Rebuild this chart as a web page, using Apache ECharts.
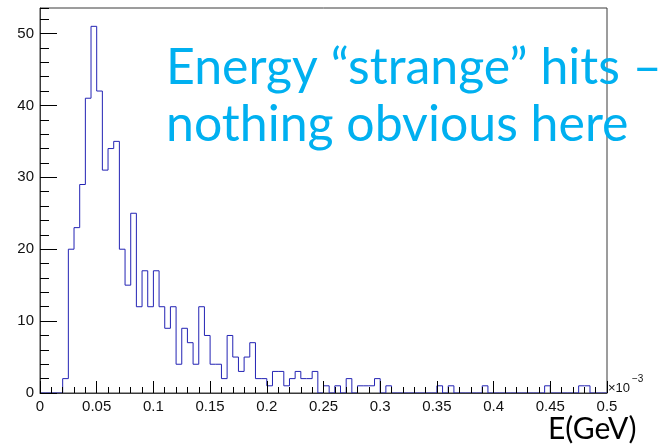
<!DOCTYPE html>
<html>
<head>
<meta charset="utf-8">
<script src="https://cdn.jsdelivr.net/npm/echarts@6/dist/echarts.min.js"></script>
<style>
html, body { margin: 0; padding: 0; background: #fff; }
#chart { width: 662px; height: 448px; }
</style>
</head>
<body>
<div id="chart"></div>
<script>
// Histogram of hit energies: 100 equal bins between binLow and binHigh (units of 1e-3 GeV)
const binLow = 0;
const binHigh = 0.5;
const counts = [
  0, 0, 0, 0, 2, 20, 23, 29, 41, 51,
  42, 31, 34, 35, 20, 15, 25, 12, 17, 12,
  17, 12, 9, 12, 4, 9, 7, 4, 12, 8,
  4, 4, 2, 8, 5, 3, 5, 7, 2, 2,
  1, 3, 3, 1, 2, 3, 2, 2, 3, 0,
  1, 0, 1, 0, 2, 0, 1, 1, 1, 2,
  0, 1, 0, 0, 0, 0, 0, 0, 0, 0,
  1, 0, 1, 0, 0, 0, 0, 0, 1, 0,
  0, 0, 0, 0, 0, 0, 0, 0, 0, 1,
  0, 0, 0, 0, 0, 1, 1, 0, 0, 0
];
const xTickValues = [0, 0.05, 0.1, 0.15, 0.2, 0.25, 0.3, 0.35, 0.4, 0.45, 0.5];
const yTickValues = [0, 10, 20, 30, 40, 50];
const titleLines = ['Energy \u201cstrange\u201d hits \u2013', 'nothing obvious here'];
const xTitle = 'E(GeV)';

// Outline of the histogram: a step path over the bin edges
const binWidth = (binHigh - binLow) / counts.length;
const outline = [[binLow, 0]];
counts.forEach((c, i) => {
  outline.push([binLow + i * binWidth, c]);
  outline.push([binLow + (i + 1) * binWidth, c]);
});
outline.push([binHigh, 0]);

const yMax = Math.max(...counts) * 1.05;
const frameColor = '#3a3a3a';
const labelFont = { color: '#111', fontFamily: 'Liberation Sans, Arial, sans-serif', fontSize: 15 };

function pick(values) {
  return v => {
    const hit = values.find(t => Math.abs(t - v) < 1e-9);
    return hit === undefined ? '' : String(hit);
  };
}

const chart = echarts.init(document.getElementById('chart'), null, { renderer: 'canvas' });
chart.setOption({
  animation: false,
  backgroundColor: '#fff',
  grid: {
    left: 40, right: 55, top: 8, bottom: 55,
    show: true, borderColor: frameColor, borderWidth: 1, backgroundColor: 'transparent'
  },
  xAxis: {
    type: 'value', min: binLow, max: binHigh, interval: 0.05, z: 5,
    axisLine: { show: true, lineStyle: { color: frameColor, width: 1 } },
    axisTick: { show: true, inside: true, length: 12, lineStyle: { color: '#000' } },
    minorTick: { show: true, splitNumber: 5, length: 6, lineStyle: { color: '#000' } },
    splitLine: { show: false },
    axisLabel: Object.assign({ margin: 6, formatter: pick(xTickValues), showMaxLabel: true, showMinLabel: true }, labelFont)
  },
  yAxis: [
    {
      type: 'value', min: 0, max: yMax, interval: 10, position: 'left', z: 5,
      axisLine: { show: true, lineStyle: { color: frameColor, width: 1 } },
      axisTick: { show: true, inside: true, length: 17, lineStyle: { color: '#000' } },
      splitLine: { show: false },
      axisLabel: Object.assign({ margin: 6, formatter: pick(yTickValues), showMaxLabel: false }, labelFont)
    },
    {
      type: 'value', min: 0, max: yMax, interval: 2, position: 'left', offset: 0, z: 5,
      axisLine: { show: false },
      axisTick: { show: true, inside: true, length: 9, lineStyle: { color: '#000' } },
      splitLine: { show: false },
      axisLabel: { show: false }
    }
  ],
  series: [{
    type: 'line',
    yAxisIndex: 0,
    data: outline,
    showSymbol: false,
    symbol: 'none',
    lineStyle: { color: '#2323b4', width: 1 },
    clip: true,
    z: 2
  }],
  graphic: [
    { type: 'text', left: 166, top: 43, style: { text: titleLines[0], fill: '#00b0f0', font: '50px Lato, sans-serif' } },
    { type: 'text', left: 166, top: 100, style: { text: titleLines[1], fill: '#00b0f0', font: '50px Lato, sans-serif' } },
    { type: 'text', left: 608, top: 382, style: { text: '\u00d710', fill: '#111', font: '13px "Liberation Sans", Arial, sans-serif' } },
    { type: 'text', left: 632, top: 374, style: { text: '\u22123', fill: '#111', font: '10px "Liberation Sans", Arial, sans-serif' } },
    { type: 'text', left: 548, top: 414, style: { text: xTitle, fill: '#000', font: '30px Lato, sans-serif' } }
  ]
});
</script>
</body>
</html>
